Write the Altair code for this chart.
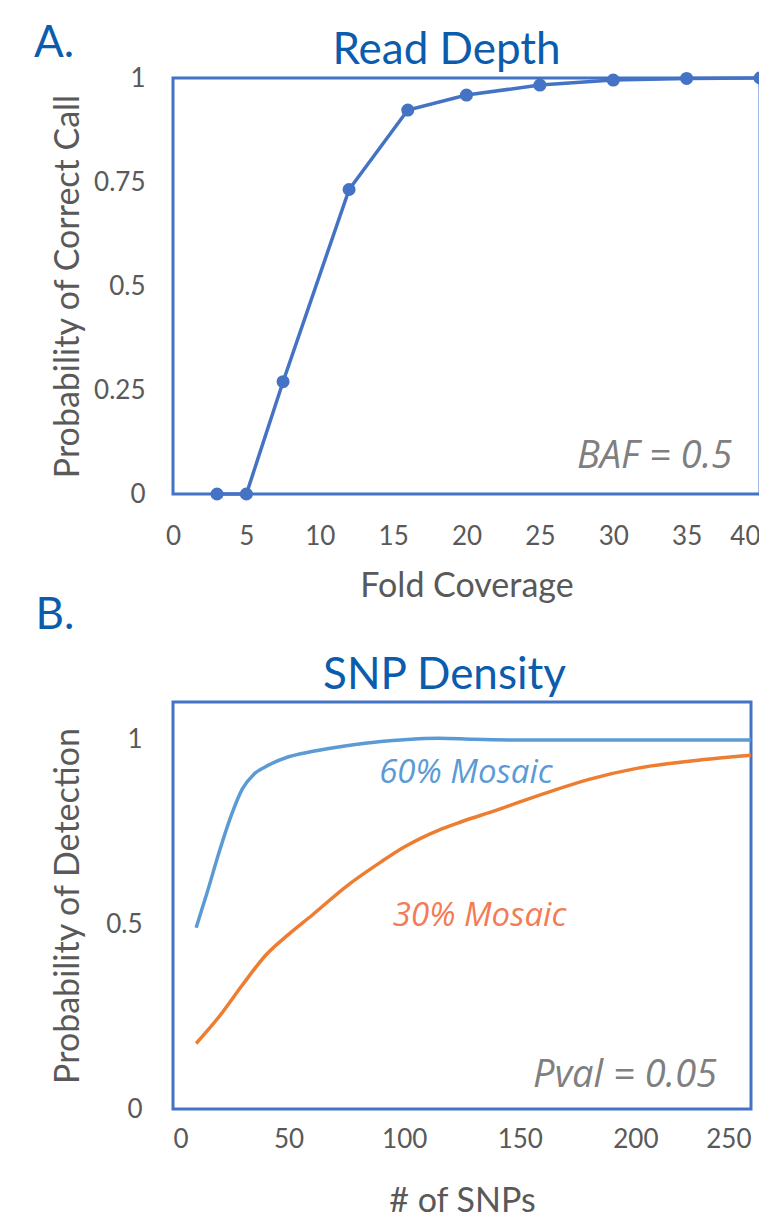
import altair as alt
import pandas as pd

# Panel A: Read depth
fold_coverage = [3, 5, 7.5, 12, 16, 20, 25, 30, 35, 40]
prob_correct = [0.0, 0.0, 0.27, 0.732, 0.923, 0.959, 0.983, 0.995, 0.999, 1.0]

# Panel B: SNP density
snps_60 = [10, 15, 20, 25, 30, 35, 40, 50, 60, 75, 90, 100, 115, 130, 150, 200, 250]
prob_60 = [0.49, 0.59, 0.695, 0.79, 0.865, 0.905, 0.925, 0.952, 0.966, 0.982, 0.993, 0.998, 1.002, 0.999, 0.997, 0.997, 0.997]
snps_30 = [10, 20, 30, 40, 50, 60, 75, 90, 100, 115, 125, 140, 150, 165, 180, 200, 225, 250]
prob_30 = [0.177, 0.25, 0.335, 0.415, 0.472, 0.523, 0.602, 0.668, 0.708, 0.754, 0.777, 0.808, 0.83, 0.862, 0.891, 0.92, 0.941, 0.956]
series_names = ["60% Mosaic", "30% Mosaic"]

FONT = "Lato"
ITALIC_FONT = "Open Sans"
BORDER = "#4472C4"
GREY = "#595959"
TITLE_BLUE = "#0B5CAD"

df_a = pd.DataFrame({"fold": fold_coverage, "prob": prob_correct})
df_b = pd.concat([
    pd.DataFrame({"snps": snps_60, "prob": prob_60, "series": series_names[0]}),
    pd.DataFrame({"snps": snps_30, "prob": prob_30, "series": series_names[1]}),
])

LABEL_EXPR = "'' + datum.value"


def text_label(txt, x, y, size=44, color=TITLE_BLUE):
    return alt.Chart(pd.DataFrame({"t": [txt]})).mark_text(
        font=FONT, fontSize=size, color=color, align="center", baseline="alphabetic"
    ).encode(x=alt.value(x), y=alt.value(y), text="t:N")


# ---------- Panel A ----------
xa = alt.X("fold:Q", scale=alt.Scale(domain=[0, 40], nice=False),
           axis=alt.Axis(values=[0, 5, 10, 15, 20, 25, 30, 35, 40], title="Fold Coverage",
                         labelExpr=LABEL_EXPR,
                         labelAlign={"condition": {"test": "datum.value == 40", "value": "right"},
                                     "value": "center"},
                         grid=False, domain=False, ticks=False, tickSize=0,
                         labelPadding=29, titlePadding=20))
ya = alt.Y("prob:Q", scale=alt.Scale(domain=[0, 1], nice=False),
           axis=alt.Axis(values=[0, 0.25, 0.5, 0.75, 1], labelExpr=LABEL_EXPR,
                         title="Probability of Correct Call",
                         grid=False, domain=False, ticks=False, tickSize=0,
                         labelPadding=28, titlePadding=8))

base_a = alt.Chart(df_a)
line_a = base_a.mark_line(color=BORDER, strokeWidth=3.5).encode(x=xa, y=ya)
pts_a = base_a.mark_point(filled=True, color=BORDER, size=170, opacity=1).encode(x=xa, y=ya)
baf = alt.Chart(pd.DataFrame({"x": [38.1], "y": [0.0625], "t": ["BAF = 0.5"]})).mark_text(
    font=ITALIC_FONT, fontStyle="italic", fontSize=38, color="#7F7F7F", align="right",
    baseline="alphabetic").encode(x="x:Q", y="y:Q", text="t:N")

panel_a = alt.layer(
    line_a, pts_a, baf,
    text_label("Read Depth", 273.5, -14),
    text_label("A.", -119, -21),
    text_label("B.", -118, 551),
).properties(width=587, height=416)

# ---------- Panel B ----------
xb = alt.X("snps:Q", scale=alt.Scale(domain=[0, 250], nice=False),
           axis=alt.Axis(values=[0, 50, 100, 150, 200, 250], title="# of SNPs",
                         labelExpr=LABEL_EXPR,
                         grid=False, domain=False, ticks=False, tickSize=0,
                         labelPadding=17, titlePadding=32))
yb = alt.Y("prob:Q", scale=alt.Scale(domain=[0, 1.1], nice=False),
           axis=alt.Axis(values=[0, 0.5, 1], labelExpr=LABEL_EXPR,
                         title="Probability of Detection",
                         grid=False, domain=False, ticks=False, tickSize=0,
                         labelPadding=31, titlePadding=20))
color_b = alt.Color("series:N", scale=alt.Scale(domain=series_names, range=["#5B9BD5", "#ED7D31"]),
                    legend=None)

lines_b = alt.Chart(df_b).mark_line(strokeWidth=3.5, interpolate="monotone").encode(
    x=xb, y=yb, color=color_b, detail="series:N")

ann_b = pd.DataFrame({
    "x": [126.7, 132.6],
    "y": [0.881, 0.495],
    "t": series_names,
    "c": ["#5B9BD5", "#F47B55"],
})
txt_b = alt.Chart(ann_b).mark_text(font=ITALIC_FONT, fontStyle="italic", fontSize=33,
                                   align="center", baseline="alphabetic").encode(
    x="x:Q", y="y:Q", text="t:N", color=alt.Color("c:N", scale=None))
pval = alt.Chart(pd.DataFrame({"x": [235.3], "y": [0.0595], "t": ["Pval = 0.05"]})).mark_text(
    font=ITALIC_FONT, fontStyle="italic", fontSize=38, color="#7F7F7F", align="right",
    baseline="alphabetic").encode(x="x:Q", y="y:Q", text="t:N")

panel_b = alt.layer(
    lines_b, txt_b, pval,
    text_label("SNP Density", 271.5, -13),
).properties(width=578, height=407)

chart = alt.vconcat(panel_a, panel_b, spacing=208, bounds="flush").properties(
    padding={"left": 24, "top": 12, "right": -10, "bottom": 0},
    background="white",
).configure_view(stroke=BORDER, strokeWidth=3).configure_axis(
    labelFont=FONT, labelFontSize=26, labelColor=GREY,
    titleFont=FONT, titleFontSize=34, titleColor=GREY, titleFontWeight="normal"
)

chart.save("out.html", embed_options={"renderer": "svg", "actions": False})
